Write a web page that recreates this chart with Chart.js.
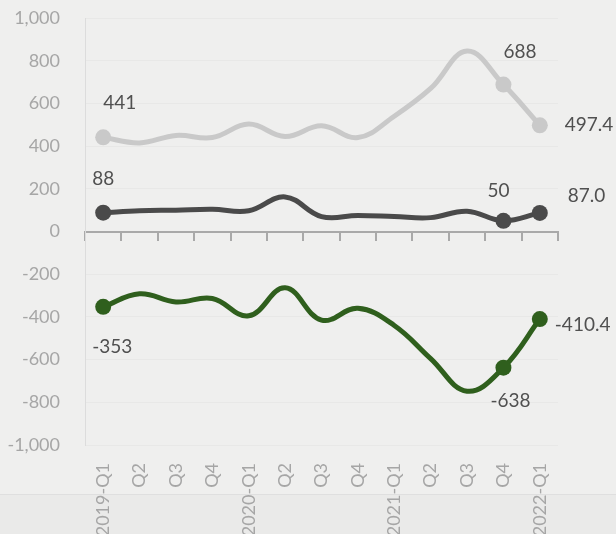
<!DOCTYPE html>
<html>
<head>
    <title>Quarterly series</title>
    <script src="https://cdn.jsdelivr.net/npm/chart.js"></script>
    <style>
        html, body { margin: 0; padding: 0; background: #efefee; }
        #wrap { width: 616px; height: 534px; }
    </style>
</head>
<body>
    <div id="wrap"><canvas id="chart" width="616" height="534"></canvas></div>

    <script>
        const quarters = ['2019-Q1', 'Q2', 'Q3', 'Q4', '2020-Q1', 'Q2', 'Q3', 'Q4', '2021-Q1', 'Q2', 'Q3', 'Q4', '2022-Q1'];

        const lightValues = [441, 415, 450, 440, 503, 445, 495, 440, 540, 670, 845, 688, 497.4];
        const darkValues  = [88, 97, 100, 104, 97, 162, 70, 75, 70, 65, 95, 50, 87.0];
        const greenValues = [-353, -292, -330, -314, -395, -264, -415, -360, -440, -595, -748, -638, -410.4];

        // text shown next to the marked points (index -> text)
        const lightLabels = { 0: '441', 11: '688', 12: '497.4' };
        const darkLabels  = { 0: '88', 11: '50', 12: '87.0' };
        const greenLabels = { 0: '-353', 11: '-638', 12: '-410.4' };

        const yTicks = [-1000, -800, -600, -400, -200, 0, 200, 400, 600, 800, 1000];

        const marked = quarters.map((q, i) => (i === 0 || i >= 11) ? 8 : 0);

        // where each label sits relative to its point
        const labelOffsets = [
            { 0: [0, -34, 'left'], 11: [0, -33, 'left'], 12: [25, 0, 'left'] },
            { 0: [-11, -34, 'left'], 11: [-16, -30, 'left'], 12: [28, -17, 'left'] },
            { 0: [-11, 40, 'left'], 11: [-13, 33, 'left'], 12: [15, 6, 'left'] }
        ];

        const backdrop = {
            id: 'backdrop',
            beforeDraw(chart) {
                const c = chart.ctx;
                c.save();
                c.fillStyle = '#efefee';
                c.fillRect(0, 0, chart.width, chart.height);
                c.fillStyle = '#eaeae9';
                c.fillRect(0, 495, chart.width, chart.height - 495);
                c.strokeStyle = '#dfdfdf';
                c.lineWidth = 1;
                c.beginPath();
                c.moveTo(0, 494.5);
                c.lineTo(chart.width, 494.5);
                c.stroke();
                c.restore();
            }
        };

        const pointLabels = {
            id: 'pointLabels',
            afterDatasetsDraw(chart) {
                const c = chart.ctx;
                c.save();
                c.font = '19px Lato';
                c.fillStyle = '#505050';
                c.textBaseline = 'middle';
                chart.data.datasets.forEach((ds, d) => {
                    const meta = chart.getDatasetMeta(d);
                    Object.keys(ds.pointText).forEach(k => {
                        const i = Number(k);
                        const p = meta.data[i];
                        const off = labelOffsets[d][i];
                        c.textAlign = off[2];
                        c.fillText(ds.pointText[k], p.x + off[0], p.y + off[1]);
                    });
                });
                c.restore();
            }
        };

        function series(values, color, texts) {
            return {
                data: values,
                borderColor: color,
                backgroundColor: color,
                borderWidth: 5,
                tension: 0.4,
                pointRadius: marked,
                pointHoverRadius: marked,
                pointBorderWidth: 0,
                fill: false,
                pointText: texts
            };
        }

        const ctx = document.getElementById('chart').getContext('2d');
        const chart = new Chart(ctx, {
            type: 'line',
            data: {
                labels: quarters,
                datasets: [
                    series(lightValues, '#c9c9c9', lightLabels),
                    series(darkValues, '#4a4a4a', darkLabels),
                    series(greenValues, '#2f5f1d', greenLabels)
                ]
            },
            options: {
                responsive: false,
                animation: false,
                layout: { padding: { top: 18, right: 58, left: 0, bottom: 0 } },
                plugins: {
                    legend: { display: false },
                    tooltip: { enabled: false }
                },
                scales: {
                    x: {
                        offset: true,
                        grid: { display: false, drawTicks: false },
                        border: { display: false },
                        ticks: {
                            autoSkip: false,
                            maxRotation: 90,
                            minRotation: 90,
                            padding: 18,
                            color: '#a6a6a6',
                            font: { family: 'Lato', size: 18 }
                        },
                        afterFit(scale) { scale.height = 89; }
                    },
                    x2: {
                        type: 'category',
                        labels: quarters,
                        position: { y: 0 },
                        offset: true,
                        grid: {
                            offset: true,
                            drawOnChartArea: false,
                            drawTicks: true,
                            tickLength: 8,
                            color: '#a9a9a9',
                            lineWidth: 2
                        },
                        border: { display: true, color: '#a9a9a9', width: 2 },
                        ticks: { display: false }
                    },
                    y: {
                        min: -1000,
                        max: 1000,
                        afterBuildTicks(scale) {
                            scale.ticks = yTicks.map(v => ({ value: v }));
                        },
                        grid: { color: '#e8e8e7', lineWidth: 1, drawTicks: false },
                        border: { display: true, color: '#dcdcdc', width: 1 },
                        ticks: {
                            padding: 25,
                            color: '#a6a6a6',
                            font: { family: 'Lato', size: 18 },
                            callback: v => v.toLocaleString('en-US')
                        },
                        afterFit(scale) {
                            scale.width = 85;
                            scale.paddingTop = 0;
                            scale.paddingBottom = 0;
                        }
                    }
                }
            },
            plugins: [backdrop, pointLabels]
        });
    </script>
</body>
</html>
